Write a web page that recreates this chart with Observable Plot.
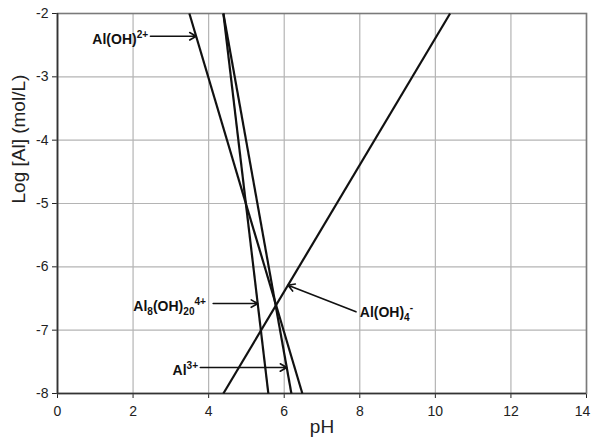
<!DOCTYPE html>
<html>
<head>
<meta charset="utf-8">
<script src="https://cdn.jsdelivr.net/npm/d3@7"></script>
<script src="https://cdn.jsdelivr.net/npm/@observablehq/plot@0.6"></script>
<style>
  html, body { margin: 0; padding: 0; background: #fff; }
  #chart { width: 592px; height: 445px; }
</style>
</head>
<body>
<div id="chart"></div>
<script>
// ---- data ----
const species   = ["Al(OH)4-", "Al3+", "Al8(OH)20 4+", "Al(OH)2+"];
const startPH   = [4.39, 4.39, 4.39, 3.49];
const startLog  = [-8, -2, -2, -2];
const endPH     = [10.39, 6.19, 5.58, 6.48];
const endLog    = [-2, -8, -8, -8];

// annotation labels (markup: _{sub}, ^{sup})
const labelText   = ["Al(OH)_{4}^{-}", "Al^{3+}", "Al_{8}(OH)_{20}^{4+}", "Al(OH)^{2+}"];
const labelPH     = [8.0, 3.72, 3.93, 2.40];
const labelLog    = [-6.71, -7.59, -6.58, -2.36];
const labelAnchor = ["start", "end", "end", "end"];
const arrowTailPH = [7.90, 3.78, 4.12, 2.46];
const arrowTailLog= [-6.71, -7.59, -6.58, -2.36];
const arrowHeadLog= [-6.29, -7.59, -6.58, -2.36];

const xTicks = [0, 2, 4, 6, 8, 10, 12, 14];
const yTicks = [-8, -7, -6, -5, -4, -3, -2];
const xTitle = "pH";
const yTitle = "Log [Al] (mol/L)";

// ---- build tables ----
const lines = species.map((s, i) => ({s, x1: startPH[i], y1: startLog[i], x2: endPH[i], y2: endLog[i]}));
function pHOnLine(i, lg) {
  return startPH[i] + (lg - startLog[i]) * (endPH[i] - startPH[i]) / (endLog[i] - startLog[i]);
}
const labels = species.map((s, i) => ({
  s, text: labelText[i], x: labelPH[i], y: labelLog[i], anchor: labelAnchor[i],
  tx: arrowTailPH[i], ty: arrowTailLog[i], hx: pHOnLine(i, arrowHeadLog[i]), hy: arrowHeadLog[i]
}));

const font = "'Liberation Sans', Arial, sans-serif";

const plot = Plot.plot({
  width: 592,
  height: 445,
  marginLeft: 57,
  marginRight: 6,
  marginTop: 13,
  marginBottom: 52,
  style: {fontFamily: font, fontSize: "14px", color: "#222", background: "#fff"},
  x: {domain: [0, 14], ticks: xTicks, tickSize: 5, tickPadding: 8, label: null, tickFormat: d => String(d)},
  y: {domain: [-8, -2], ticks: yTicks, tickSize: 5, tickPadding: 4, label: null, tickFormat: d => String(d).replace("\u2212", "-")},
  marks: [
    Plot.gridX(xTicks, {stroke: "#b4b4b4", strokeOpacity: 1, strokeWidth: 1.2}),
    Plot.gridY(yTicks, {stroke: "#b4b4b4", strokeOpacity: 1, strokeWidth: 1.2}),
    Plot.frame({stroke: "#7a7a7a", strokeWidth: 1.6}),
    Plot.ruleX([0], {stroke: "#333", strokeWidth: 1.6}),
    Plot.ruleY([-8], {stroke: "#333", strokeWidth: 1.6}),
    Plot.link(lines, {x1: "x1", y1: "y1", x2: "x2", y2: "y2", stroke: "#111", strokeWidth: 2.2}),
    Plot.arrow(labels, {x1: "tx", y1: "ty", x2: "hx", y2: "hy", stroke: "#111", strokeWidth: 1.6, headLength: 7, bend: 0}),
    Plot.text(labels.filter(d => d.anchor === "end"), {x: "x", y: "y", text: "text", textAnchor: "end", dy: 3, fontWeight: "bold", fontSize: 14, fill: "#111"}),
    Plot.text(labels.filter(d => d.anchor === "start"), {x: "x", y: "y", text: "text", textAnchor: "start", dy: 1, fontWeight: "bold", fontSize: 14, fill: "#111"}),
    Plot.text([xTitle], {frameAnchor: "bottom", dy: 39, fontSize: 19, fill: "#222"}),
    Plot.text([yTitle], {frameAnchor: "left", dx: -39, rotate: -90, fontSize: 19, fill: "#222"})
  ]
});

// turn _{..} / ^{..} markup into tspans (real text)
plot.querySelectorAll("text").forEach(t => {
  const s = t.textContent;
  if (!/[_^]\{/.test(s)) return;
  t.textContent = "";
  const re = /([_^])\{([^}]*)\}|([^_^]+)/g;
  let m, offset = 0;
  while ((m = re.exec(s))) {
    const ts = document.createElementNS("http://www.w3.org/2000/svg", "tspan");
    let target = 0, txt;
    if (m[3] !== undefined) { txt = m[3]; }
    else {
      txt = m[2];
      ts.setAttribute("font-size", "0.72em");
      target = m[1] === "^" ? -6 : 4;
    }
    ts.setAttribute("dy", String(target - offset));
    offset = target;
    ts.textContent = txt;
    t.appendChild(ts);
  }
});

// keep the last x tick label ("14") inside the picture, as in the reference
plot.querySelectorAll("text").forEach(t => {
  if (t.textContent === "14" && !t.closest("[aria-label^='y']")) {
    t.setAttribute("dx", "-4");
  }
});

document.getElementById("chart").appendChild(plot);
</script>
</body>
</html>
